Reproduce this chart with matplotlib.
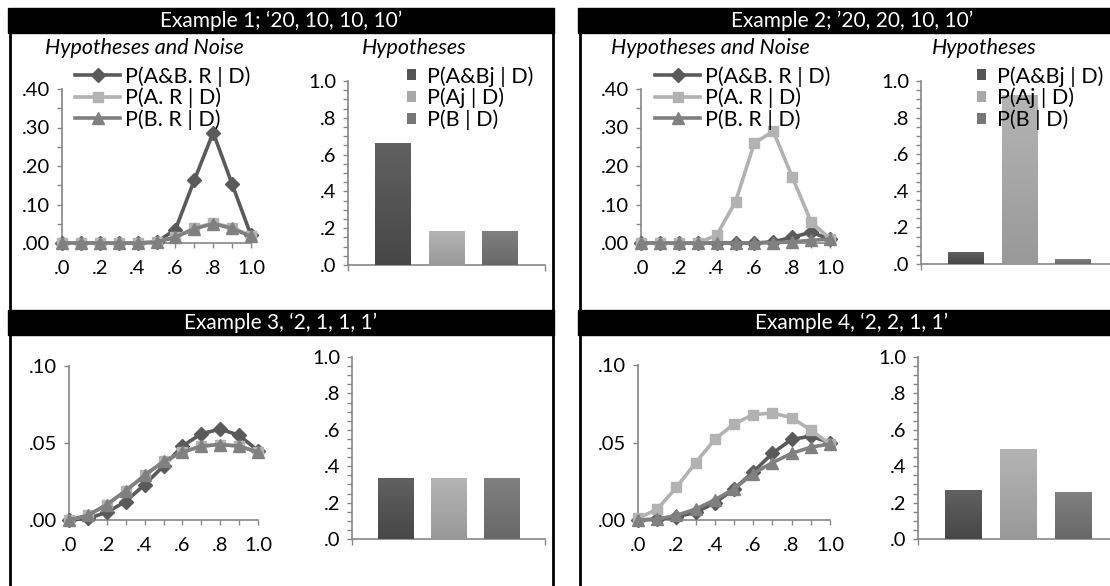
import matplotlib
matplotlib.use('Agg')
import numpy as np
import matplotlib.pyplot as plt
from matplotlib.patches import Rectangle, Patch
from matplotlib.colors import LinearSegmentedColormap
from matplotlib.ticker import MultipleLocator, FuncFormatter, NullLocator

plt.rcParams['font.family'] = ['Lato', 'DejaVu Sans']

W, H = 1110, 586

# ---------------- data ----------------
x_vals = [0.0, 0.1, 0.2, 0.3, 0.4, 0.5, 0.6, 0.7, 0.8, 0.9, 1.0]

line_labels = ['P(A&B. R | D)', 'P(A. R | D)', 'P(B. R | D)']
bar_labels = ['P(A&Bj | D)', 'P(Aj | D)', 'P(B | D)']

titles = ["Example 1; \u201820, 10, 10, 10\u2019",
          "Example 2; \u201920, 20, 10, 10\u2019",
          "Example 3, \u20182, 1, 1, 1\u2019",
          "Example 4, \u20182, 2, 1, 1\u2019"]

ex1_AB = [0, 0, 0, 0, 0, 0.002, 0.035, 0.163, 0.287, 0.153, 0.020]
ex1_A = [0, 0, 0, 0, 0, 0.003, 0.016, 0.038, 0.052, 0.040, 0.018]
ex1_B = [0, 0, 0, 0, 0, 0.002, 0.015, 0.037, 0.050, 0.038, 0.017]

ex2_AB = [0, 0, 0, 0, 0, 0, 0, 0.003, 0.015, 0.028, 0.010]
ex2_A = [0, 0, 0, 0, 0.020, 0.107, 0.260, 0.290, 0.172, 0.055, 0.011]
ex2_B = [0, 0, 0, 0, 0, 0, 0, 0.001, 0.003, 0.007, 0.010]

ex3_AB = [0, 0.001, 0.005, 0.012, 0.023, 0.035, 0.048, 0.056, 0.059, 0.055, 0.045]
ex3_A = [0, 0.003, 0.010, 0.019, 0.029, 0.038, 0.044, 0.048, 0.049, 0.048, 0.044]
ex3_B = [0, 0.003, 0.010, 0.019, 0.029, 0.038, 0.044, 0.048, 0.049, 0.048, 0.044]

ex4_AB = [0, 0.0005, 0.002, 0.005, 0.011, 0.020, 0.031, 0.043, 0.052, 0.054, 0.050]
ex4_A = [0.001, 0.007, 0.021, 0.037, 0.052, 0.062, 0.068, 0.069, 0.066, 0.058, 0.049]
ex4_B = [0, 0.0005, 0.003, 0.007, 0.013, 0.020, 0.030, 0.037, 0.043, 0.047, 0.049]

bars1 = [0.66, 0.18, 0.18]
bars2 = [0.064, 0.923, 0.026]
bars3 = [0.333, 0.333, 0.333]
bars4 = [0.265, 0.493, 0.254]

# ---------------- style ----------------
c_dark, c_light, c_mid = '#5a5a5a', '#b2b2b2', '#808080'
bar_grads = [('#616161', '#474747'), ('#b4b4b4', '#999999'), ('#808080', '#686868')]
bar_solid = ['#555555', '#a8a8a8', '#767676']
axis_gray = '#868686'
FS_TITLE = 15
FS_SUB = 15.5
FS_LEG = 15.5
FS_TICK = 14.5

fig = plt.figure(figsize=(W / 100, H / 100), dpi=100)

bg = fig.add_axes([0, 0, 1, 1], zorder=-5)
bg.set_xlim(0, W)
bg.set_ylim(H, 0)
bg.axis('off')


def px_axes(l, t, r, b):
    return fig.add_axes([l / W, 1 - b / H, (r - l) / W, (b - t) / H])


# panel frames and title bars
panels = [(8, 554), (578, 1124)]
for (l, r) in panels:
    for xx in (l + 1.5, r - 1.5):
        bg.plot([xx, xx], [8, H + 5], color='black', lw=2.0, solid_capstyle='butt')
    bg.add_patch(Rectangle((l, 8), r - l, 25, color='black'))
    bg.add_patch(Rectangle((l, 310), r - l, 25, color='black'))

centers = [(281, 21), (852, 21), (281, 323), (852, 323)]
for (cx, cy), t in zip(centers, titles):
    bg.text(cx, cy, t, color='white', fontsize=FS_TITLE, ha='center', va='center')

# panel subtitles
for cx, t in [(144, 'Hypotheses and Noise'), (710, 'Hypotheses and Noise'),
              (414, 'Hypotheses'), (984, 'Hypotheses')]:
    bg.text(cx, 48, t, fontsize=FS_SUB, style='italic', ha='center', va='center')


def style_axes(ax):
    for s in ('top', 'right'):
        ax.spines[s].set_visible(False)
    for s in ('left', 'bottom'):
        ax.spines[s].set_color(axis_gray)
        ax.spines[s].set_linewidth(1.2)
    ax.tick_params(axis='both', which='both', direction='out', length=3.5,
                   width=1.0, color=axis_gray, labelsize=FS_TICK)
    ax.tick_params(axis='y', pad=5)
    ax.tick_params(axis='x', pad=9)
    ax.set_facecolor('none')


def dotfmt(nd):
    return FuncFormatter(lambda v, _: f'{v:.{nd}f}'.lstrip('0') if abs(v) < 1 - 1e-9 else f'{v:.{nd}f}')


def line_panel(box, ymax, ymaj, ymin, AB, A, B, legend_anchor=None):
    ax = px_axes(*box)
    style_axes(ax)
    ax.plot(x_vals, AB, color=c_dark, marker='D', ms=7, lw=2.6, label=line_labels[0], clip_on=False, zorder=3)
    ax.plot(x_vals, A, color=c_light, marker='s', ms=7.5, lw=2.6, label=line_labels[1], clip_on=False, zorder=4)
    ax.plot(x_vals, B, color=c_mid, marker='^', ms=8.5, lw=2.6, label=line_labels[2], clip_on=False, zorder=5)
    ax.set_xlim(0, 1)
    ax.set_ylim(0, ymax)
    ax.xaxis.set_major_locator(MultipleLocator(0.2))
    ax.xaxis.set_minor_locator(MultipleLocator(0.1))
    ax.xaxis.set_major_formatter(dotfmt(1))
    ax.yaxis.set_major_locator(MultipleLocator(ymaj))
    if ymin:
        ax.yaxis.set_minor_locator(MultipleLocator(ymin))
    else:
        ax.yaxis.set_minor_locator(NullLocator())
    ax.yaxis.set_major_formatter(dotfmt(2))
    if legend_anchor is not None:
        lx, ly = legend_anchor
        leg = ax.legend(loc='upper left', bbox_to_anchor=(lx / W, 1 - ly / H), bbox_transform=fig.transFigure,
                        frameon=False, fontsize=FS_LEG, borderpad=0, borderaxespad=0, handlelength=2.1,
                        handletextpad=0.2, labelspacing=0.05)
        leg.set_zorder(10)
    return ax


def bar_panel(box, vals, legend_anchor=None):
    ax = px_axes(*box)
    style_axes(ax)
    lo, hi = -1.83, 1.83
    for i, (v, lab) in enumerate(zip(vals, bar_labels)):
        cont = ax.bar(i - 1, v, width=0.667, color=bar_solid[i], label=lab, zorder=3)
        rect = cont.patches[0]
        x0, y0 = rect.get_x(), rect.get_y()
        w, h = rect.get_width(), rect.get_height()
        cmap = LinearSegmentedColormap.from_list('g', [bar_grads[i][1], bar_grads[i][0]])
        ax.imshow(np.linspace(0, 1, 64).reshape(-1, 1), extent=[x0, x0 + w, y0, y0 + h],
                  origin='lower', aspect='auto', cmap=cmap, zorder=3.5, interpolation='bilinear')
    ax.set_xlim(lo, hi)
    ax.set_ylim(0, 1)
    ax.set_xticks([lo, hi])
    ax.set_xticklabels(['', ''])
    ax.tick_params(axis='x', length=4)
    ax.yaxis.set_major_locator(MultipleLocator(0.2))
    ax.yaxis.set_minor_locator(MultipleLocator(0.05))
    ax.yaxis.set_major_formatter(dotfmt(1))
    if legend_anchor is not None:
        lx, ly = legend_anchor
        handles = [Patch(facecolor=c) for c in bar_solid]
        leg = ax.legend(handles, bar_labels, loc='upper left', bbox_to_anchor=(lx / W, 1 - ly / H),
                        bbox_transform=fig.transFigure, frameon=False, fontsize=FS_LEG, borderpad=0,
                        borderaxespad=0, handlelength=0.4, handleheight=0.4, handletextpad=0.55,
                        labelspacing=0.05)
        leg.set_zorder(10)
    return ax


line_panel((62, 89, 251, 243), 0.40, 0.10, 0.05, ex1_AB, ex1_A, ex1_B, legend_anchor=(75, 66))
line_panel((641, 89, 830, 243), 0.40, 0.10, 0.05, ex2_AB, ex2_A, ex2_B, legend_anchor=(655, 66))
line_panel((69, 366, 258, 520), 0.10, 0.05, None, ex3_AB, ex3_A, ex3_B)
line_panel((638, 365, 830, 520), 0.10, 0.05, None, ex4_AB, ex4_A, ex4_B)

bar_panel((348, 81, 545, 265), bars1, legend_anchor=(407, 66))
bar_panel((921, 81, 1118, 264), bars2, legend_anchor=(977, 66))
bar_panel((352, 357, 545, 539), bars3)
bar_panel((918, 357, 1119, 539), bars4)

fig.savefig('out.png', dpi=100)
